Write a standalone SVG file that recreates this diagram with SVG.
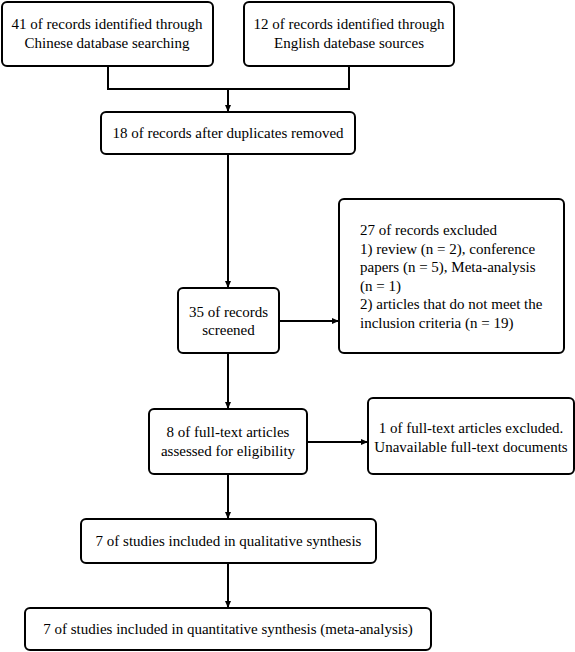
<svg xmlns="http://www.w3.org/2000/svg" width="575" height="652" viewBox="0 0 575 652">
<style>
.box{fill:#fff;stroke:#000;stroke-width:2}
text{font-family:'Liberation Serif','DejaVu Serif',serif;font-size:15px;fill:#000}
.c{text-anchor:middle}
.ln{fill:none;stroke:#000;stroke-width:2}
</style>
<defs>
<marker id="ah" markerUnits="userSpaceOnUse" markerWidth="8" markerHeight="6" refX="7" refY="3" orient="auto">
<path d="M0,0 L7,3 L0,6 z" fill="#000"/>
</marker>
</defs>
<rect width="575" height="652" fill="#fff"/>
<g id="connectors">
<path class="ln" d="M108,66 V89 H349 V66"/>
<path class="ln" d="M228,89 V112" marker-end="url(#ah)"/>
<path class="ln" d="M228,154 V288" marker-end="url(#ah)"/>
<path class="ln" d="M279,321 H339" marker-end="url(#ah)"/>
<path class="ln" d="M228,353 V409" marker-end="url(#ah)"/>
<path class="ln" d="M307,442 H368" marker-end="url(#ah)"/>
<path class="ln" d="M228,474 V519" marker-end="url(#ah)"/>
<path class="ln" d="M228,563 V608" marker-end="url(#ah)"/>
</g>
<g id="n1">
<rect class="box" x="2" y="2" width="211" height="64" rx="5"/>
<text class="c" x="107" y="29">41 of records identified through</text>
<text class="c" x="107" y="48">Chinese database searching</text>
</g>
<g id="n2">
<rect class="box" x="244" y="2" width="210" height="64" rx="5"/>
<text class="c" x="349" y="29">12 of records identified through</text>
<text class="c" x="349" y="48">English datebase sources</text>
</g>
<g id="n3">
<rect class="box" x="101" y="112" width="254" height="42" rx="5"/>
<text class="c" x="228" y="138">18 of records after duplicates removed</text>
</g>
<g id="n4">
<rect class="box" x="178" y="288" width="101" height="65" rx="5"/>
<text class="c" x="228.5" y="317">35 of records</text>
<text class="c" x="228.5" y="335">screened</text>
</g>
<g id="n5">
<rect class="box" x="339" y="199" width="225" height="154" rx="5"/>
<text x="360" y="235">27 of records excluded</text>
<text x="360" y="253.5">1) review (n = 2), conference</text>
<text x="360" y="272">papers (n = 5), Meta-analysis</text>
<text x="360" y="290.5">(n = 1)</text>
<text x="360" y="309">2) articles that do not meet the</text>
<text x="360" y="327.5">inclusion criteria (n = 19)</text>
</g>
<g id="n6">
<rect class="box" x="149" y="409" width="158" height="65" rx="5"/>
<text class="c" x="228" y="437">8 of full-text articles</text>
<text class="c" x="228" y="456">assessed for eligibility</text>
</g>
<g id="n7">
<rect class="box" x="368" y="398" width="206" height="76" rx="5"/>
<text class="c" x="471" y="433">1 of full-text articles excluded.</text>
<text class="c" x="471" y="452">Unavailable full-text documents</text>
</g>
<g id="n8">
<rect class="box" x="81" y="519" width="295" height="44" rx="5"/>
<text class="c" x="228.5" y="546">7 of studies included in qualitative synthesis</text>
</g>
<g id="n9">
<rect class="box" x="25" y="608" width="406" height="42" rx="5"/>
<text class="c" x="228" y="634">7 of studies included in quantitative synthesis (meta-analysis)</text>
</g>
</svg>
